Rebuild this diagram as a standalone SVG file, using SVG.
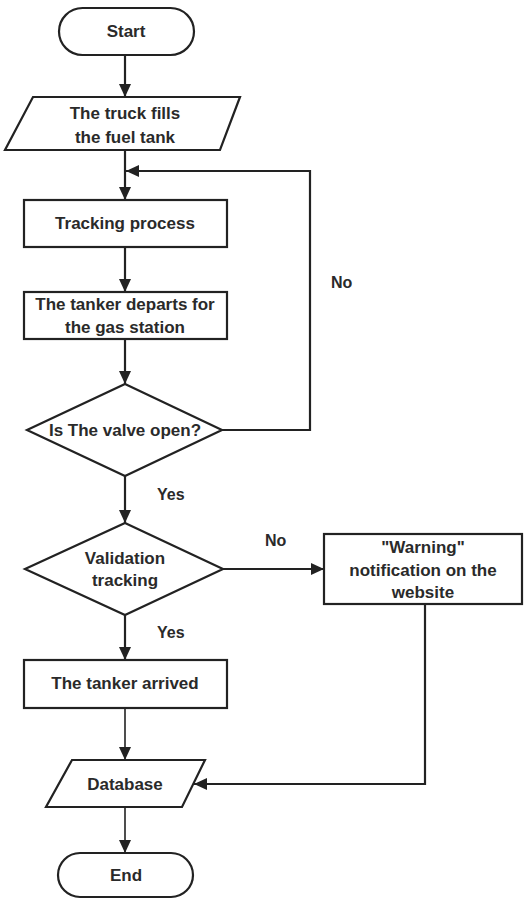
<svg xmlns="http://www.w3.org/2000/svg" width="524" height="899" viewBox="0 0 524 899">
<style>
.shape{fill:#fff;stroke:#222;stroke-width:2.2}
.t{font-family:"Liberation Sans",Arial,sans-serif;font-weight:bold;font-size:17px;fill:#2a2a2a;text-anchor:middle}
.lbl{font-family:"Liberation Sans",Arial,sans-serif;font-weight:bold;font-size:16px;fill:#2a2a2a}
.c{fill:none;stroke:#222;stroke-width:2.2}
.c.thin{stroke-width:1.6}
</style>
<defs>
<marker id="ah" markerUnits="userSpaceOnUse" markerWidth="14" markerHeight="12" viewBox="0 0 14 12" refX="13" refY="6" orient="auto">
<path d="M0,0 L13,6 L0,12 Z" fill="#222"/>
</marker>
</defs>
<rect width="524" height="899" fill="#fff"/>
<g id="connectors">
<path class="c" d="M125,55 V97" marker-end="url(#ah)"/>
<path class="c" d="M125,150 V200" marker-end="url(#ah)"/>
<path class="c" d="M125,247 V292" marker-end="url(#ah)"/>
<path class="c" d="M125,339 V384" marker-end="url(#ah)"/>
<path class="c" d="M222,430 H310 V171 H126" marker-end="url(#ah)"/>
<path class="c" d="M125,476 V523" marker-end="url(#ah)"/>
<path class="c" d="M223,569 H324" marker-end="url(#ah)"/>
<path class="c" d="M125,615 V660" marker-end="url(#ah)"/>
<path class="c thin" d="M125,708 V760" marker-end="url(#ah)"/>
<path class="c" d="M425,604 V784 H194" marker-end="url(#ah)"/>
<path class="c thin" d="M125,807 V853" marker-end="url(#ah)"/>
<text class="lbl" x="331" y="288">No</text>
<text class="lbl" x="157" y="500">Yes</text>
<text class="lbl" x="265" y="546">No</text>
<text class="lbl" x="157" y="638">Yes</text>
</g>
<g id="start">
<rect class="shape" x="59" y="8" width="135" height="47" rx="23.5"/>
<text class="t" x="126" y="37">Start</text>
</g>
<g id="fill">
<polygon class="shape" points="33,97 240,97 220,150 5,150"/>
<text class="t" x="125" y="119">The truck fills</text>
<text class="t" x="125" y="143">the fuel tank</text>
</g>
<g id="tracking">
<rect class="shape" x="24" y="200" width="203" height="47"/>
<text class="t" x="125" y="229">Tracking process</text>
</g>
<g id="departs">
<rect class="shape" x="24" y="292" width="203" height="47"/>
<text class="t" x="125" y="310">The tanker departs for</text>
<text class="t" x="125" y="333">the gas station</text>
</g>
<g id="valve">
<polygon class="shape" points="125,384 222,430 125,476 27,430"/>
<text class="t" x="125" y="436">Is The valve open?</text>
</g>
<g id="validation">
<polygon class="shape" points="125,523 223,569 125,615 25,569"/>
<text class="t" x="125" y="564">Validation</text>
<text class="t" x="125" y="586">tracking</text>
</g>
<g id="warning">
<rect class="shape" x="324" y="534" width="198" height="70"/>
<text class="t" x="423" y="553">"Warning"</text>
<text class="t" x="423" y="576">notification on the</text>
<text class="t" x="423" y="598">website</text>
</g>
<g id="arrived">
<rect class="shape" x="24" y="660" width="203" height="48"/>
<text class="t" x="125" y="689">The tanker arrived</text>
</g>
<g id="database">
<polygon class="shape" points="72,760 205,760 182,807 46,807"/>
<text class="t" x="125" y="790">Database</text>
</g>
<g id="end">
<rect class="shape" x="58" y="853" width="135" height="44" rx="22"/>
<text class="t" x="126" y="881">End</text>
</g>
</svg>
